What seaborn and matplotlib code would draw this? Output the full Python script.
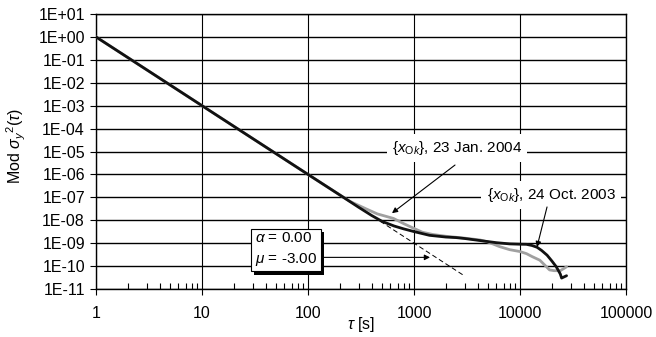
import numpy as np
import pandas as pd
import matplotlib
matplotlib.use("Agg")
import matplotlib.pyplot as plt
import matplotlib.patheffects as pe
from matplotlib.ticker import FixedLocator, FixedFormatter, LogLocator, NullFormatter
import seaborn as sns

# Modified Allan variance of the time offset series {x_Ok}
tau_oct = [1, 10, 100, 200, 300, 400, 500, 650, 800, 1000, 1400, 2000, 2500, 3000,
           4200, 6000, 8000, 10000, 11500, 13000, 14500, 16000, 18000, 20000,
           22000, 24000, 24700, 27500]
mod_oct = [1.0, 1e-3, 1e-6, 1.26e-7, 3.7e-8, 1.6e-8, 8.9e-9, 5.6e-9, 4.2e-9, 3.2e-9,
           2.2e-9, 1.85e-9, 1.75e-9, 1.6e-9, 1.3e-9, 1.05e-9, 9.3e-10, 9.0e-10,
           8.9e-10, 7.9e-10, 6.6e-10, 4.8e-10, 3.0e-10, 1.66e-10, 9.3e-11, 4.5e-11,
           3.0e-11, 3.8e-11]

tau_jan = [1, 10, 100, 200, 250, 350, 450, 640, 800, 1000, 1200, 1500, 2000, 3000,
           4200, 5000, 6400, 8000, 10000, 11500, 13000, 15400, 17500, 19000, 21000,
           24000, 27500]
mod_jan = [1.0, 1e-3, 1e-6, 1.26e-7, 6.6e-8, 3.2e-8, 1.9e-8, 1.2e-8, 7.1e-9, 4.4e-9,
           3.0e-9, 2.4e-9, 2.0e-9, 1.66e-9, 1.38e-9, 1.12e-9, 7.1e-10, 5.2e-10,
           4.3e-10, 3.5e-10, 2.6e-10, 1.8e-10, 1.0e-10, 6.8e-11, 6.3e-11, 6.3e-11,
           9.3e-11]

# Power-law model  Mod sigma^2 = tau^mu  (alpha = 0 noise type)
alpha_val = 0.00
mu_val = -3.00
model_tau = [480, 3000]

label_jan = r"$\{x_{\mathrm{O}k}\}$, 23 Jan. 2004"
label_oct = r"$\{x_{\mathrm{O}k}\}$, 24 Oct. 2003"

x_ticks = [1, 10, 100, 1000, 10000, 100000]
x_tick_labels = ["1", "10", "100", "1000", "10000", "100000"]
y_ticks = [1e1, 1e0, 1e-1, 1e-2, 1e-3, 1e-4, 1e-5, 1e-6, 1e-7, 1e-8, 1e-9, 1e-10, 1e-11]
y_tick_labels = ["1E+01", "1E+00", "1E-01", "1E-02", "1E-03", "1E-04", "1E-05",
                 "1E-06", "1E-07", "1E-08", "1E-09", "1E-10", "1E-11"]

sns.set_theme(style="ticks")
plt.rcParams["font.family"] = ["Liberation Sans", "DejaVu Sans"]
plt.rcParams["mathtext.fontset"] = "custom"
plt.rcParams["mathtext.rm"] = "Liberation Sans"
plt.rcParams["mathtext.it"] = "Liberation Sans:italic"
plt.rcParams["mathtext.bf"] = "Liberation Sans:bold"

df = pd.concat([
    pd.DataFrame({"tau": tau_jan, "mod": mod_jan, "series": "jan"}),
    pd.DataFrame({"tau": tau_oct, "mod": mod_oct, "series": "oct"}),
], ignore_index=True)

fig = plt.figure(figsize=(6.56, 3.37), dpi=100)
ax = fig.add_axes([96 / 656, 1 - 289 / 337, 530 / 656, 275 / 337])

ax.set_xscale("log")
ax.set_yscale("log")
ax.set_xlim(1, 1e5)
ax.set_ylim(1e-11, 1e1)

# grid at every decade
for v in y_ticks:
    ax.axhline(v, color="black", lw=1.0, zorder=1)
for v in x_ticks:
    ax.axvline(v, color="black", lw=0.8, zorder=1)

sns.lineplot(data=df, x="tau", y="mod", hue="series",
             palette={"jan": "#a0a0a0", "oct": "#111111"},
             estimator=None, sort=False, legend=False, lw=2.0, ax=ax, zorder=3)

model_vals = [t ** mu_val for t in model_tau]
ax.plot(model_tau, model_vals, color="black", lw=0.7, ls=(0, (5, 3)), zorder=2)

ax.xaxis.set_major_locator(FixedLocator(x_ticks))
ax.xaxis.set_major_formatter(FixedFormatter(x_tick_labels))
ax.xaxis.set_minor_locator(LogLocator(base=10, subs=np.arange(2, 10)))
ax.xaxis.set_minor_formatter(NullFormatter())
ax.yaxis.set_major_locator(FixedLocator(y_ticks))
ax.yaxis.set_major_formatter(FixedFormatter(y_tick_labels))
ax.yaxis.set_minor_locator(FixedLocator([]))

ax.tick_params(axis="x", which="major", direction="out", length=4, width=0.8,
               labelsize=11.5, pad=8, color="black", labelcolor="black")
ax.tick_params(axis="x", which="minor", direction="in", length=4, width=0.8,
               color="black")
ax.tick_params(axis="y", which="major", direction="out", length=4, width=0.8,
               labelsize=11.5, pad=4, color="black", labelcolor="black")
for s in ax.spines.values():
    s.set_color("black")
    s.set_linewidth(1.0)

ax.set_xlabel(r"$\tau$ [s]", fontsize=11.5, color="black", labelpad=-4)
ax.set_ylabel(r"Mod $\sigma_y{}^{2}(\tau)$", fontsize=11.5, color="black")
ax.yaxis.set_label_coords(-0.128, 0.52)

arrow = dict(arrowstyle="-|>", lw=0.8, color="black", mutation_scale=8,
             shrinkA=0, shrinkB=0)

# series labels with leader arrows
ax.text(2546, 10 ** -4.85, label_jan, fontsize=11, ha="center", va="center",
        color="black", zorder=5,
        bbox=dict(boxstyle="square,pad=0.35", fc="white", ec="none"))
ax.annotate("", xy=(620, 10 ** -7.69), xytext=(2438, 10 ** -5.59),
            arrowprops=arrow, zorder=5)

ax.text(19600, 10 ** -6.90, label_oct, fontsize=11, ha="center", va="center",
        color="black", zorder=5,
        bbox=dict(boxstyle="square,pad=0.35", fc="white", ec="none"))
ax.annotate("", xy=(14460, 10 ** -9.17), xytext=(17990, 10 ** -7.42),
            arrowprops=arrow, zorder=5)

# model parameter box
box = ax.text(31.5, 10 ** -9.26,
              f"$\\alpha$ = {alpha_val:.2f}\n$\\mu$ = {mu_val:.2f}",
              fontsize=11, ha="left", va="center", color="black",
              linespacing=1.5, zorder=6,
              bbox=dict(boxstyle="square,pad=0.25", fc="white", ec="black", lw=0.8))
box.get_bbox_patch().set_path_effects([
    pe.SimplePatchShadow(offset=(2.5, -2.5), shadow_rgbFace="black", alpha=1.0),
    pe.Normal(),
])
ax.annotate("", xy=(1416, 10 ** -9.62), xytext=(135.6, 10 ** -9.62),
            arrowprops=arrow, zorder=5)

fig.savefig("out.png", dpi=100, facecolor="white")
